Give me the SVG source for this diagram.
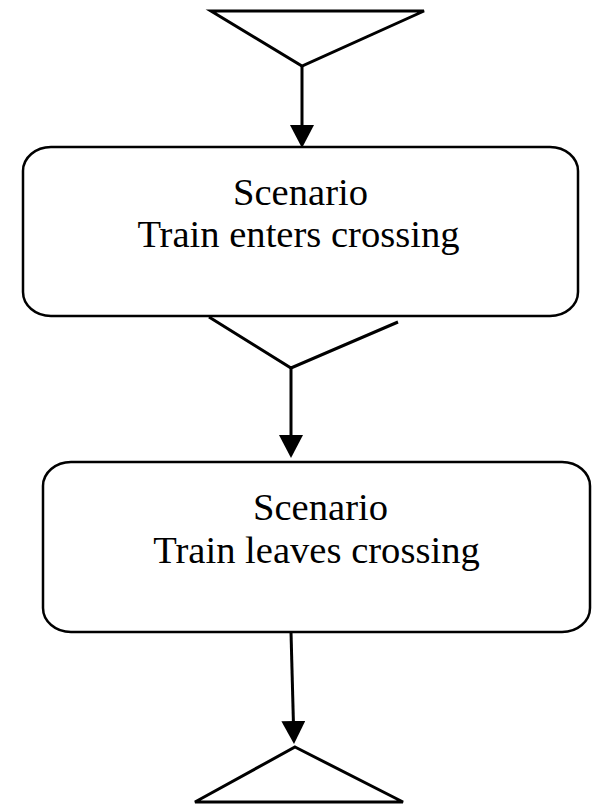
<svg xmlns="http://www.w3.org/2000/svg" width="592" height="804" viewBox="0 0 592 804">
  <style>
    .edge { fill: none; stroke: #000; stroke-width: 3; }
    .box { fill: #fff; stroke: #000; stroke-width: 2.5; }
    .tri { fill: none; stroke: #000; stroke-width: 3; stroke-linejoin: miter; }
    .lbl { font-family: "Liberation Serif", "Times New Roman", serif; font-size: 38.6px; fill: #000; text-anchor: middle; }
  </style>
  <defs>
    <marker id="arrow" markerUnits="userSpaceOnUse" markerWidth="24" markerHeight="24" refX="12" refY="12" orient="auto">
      <path d="M0,0 L23,12 L0,24 z" fill="#000"/>
    </marker>
  </defs>

  <!-- start: inverted triangle -->
  <g id="start">
    <polygon class="tri" points="211,11 424,11 302,66"/>
  </g>

  <!-- first scenario -->
  <g id="scenario-enters">
    <rect class="box" x="23" y="147" width="555" height="169" rx="28" ry="24"/>
    <text class="lbl" x="300.5" y="205">Scenario</text>
    <text class="lbl" x="298.5" y="247">Train enters crossing</text>
  </g>

  <!-- merge: open V under the first scenario -->
  <g id="merge">
    <polyline class="tri" points="209,317 291,368 398,322"/>
  </g>

  <!-- second scenario -->
  <g id="scenario-leaves">
    <rect class="box" x="43" y="462" width="547" height="170" rx="28" ry="24"/>
    <text class="lbl" x="320.5" y="520">Scenario</text>
    <text class="lbl" x="316.5" y="563">Train leaves crossing</text>
  </g>

  <!-- end: upright triangle -->
  <g id="end">
    <polygon class="tri" points="295,747 403,802 195,802"/>
  </g>

  <g id="connectors">
    <line class="edge" x1="302" y1="66" x2="302" y2="137" marker-end="url(#arrow)"/>
    <line class="edge" x1="291" y1="368" x2="291" y2="447" marker-end="url(#arrow)"/>
    <line class="edge" x1="291" y1="632" x2="293.7" y2="733" marker-end="url(#arrow)"/>
  </g>
</svg>
